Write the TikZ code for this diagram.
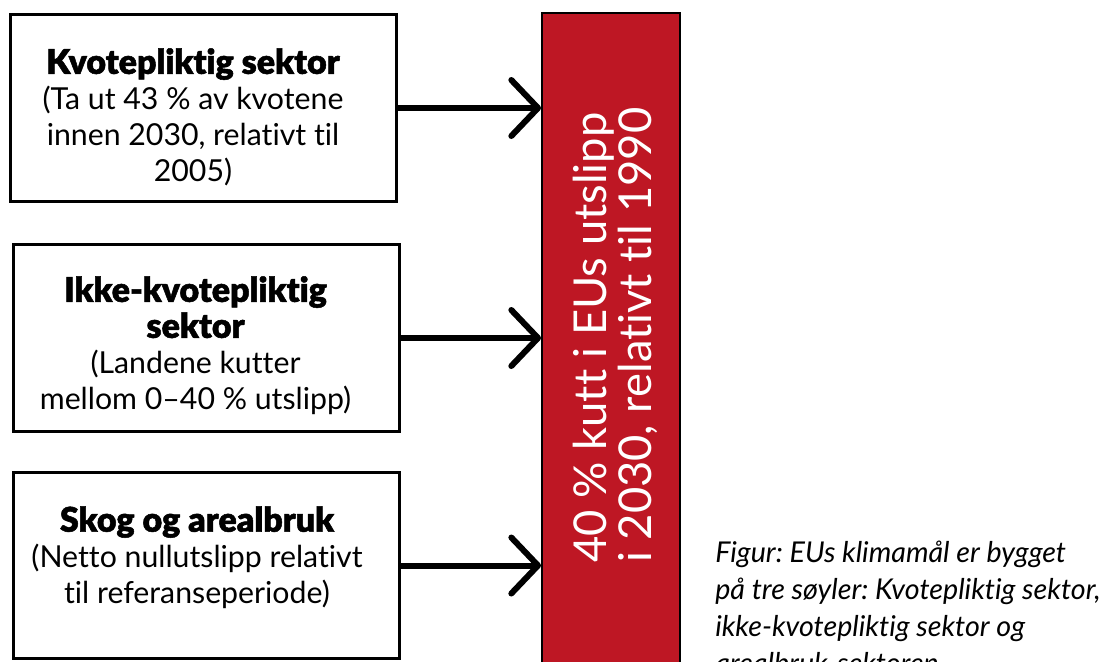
\documentclass[tikz,border=0pt]{standalone}
\usepackage{fontspec}
\setmainfont{Lato}[Ligatures=NoCommon]
\newfontfamily\headfont{Lato Black}[Ligatures=NoCommon,UprightFeatures={FakeBold=1.5}]
\usetikzlibrary{arrows.meta}
\definecolor{barred}{RGB}{190,23,36}
\frenchspacing
\begin{document}
\begin{tikzpicture}[x=0.75pt,y=-0.75pt,
  box/.style={draw,line width=2.25pt,fill=white,minimum width=290pt,minimum height=140pt,inner sep=0pt},
  txt/.style={align=center,inner sep=0pt,anchor=north,font=\fontsize{22.7}{27}\selectfont},
  arr/.style={line width=4.5pt,-{Straight Barb[length=20pt,width=42pt,round]}},
  bartxt/.style={text=white,rotate=90,anchor=north west,align=left,inner sep=0pt,font=\fontsize{34}{34}\selectfont},
  caption/.style={anchor=north west,align=left,inner sep=0pt,font=\itshape\fontsize{21.5}{27.75}\selectfont}]
\newcommand\hd{\headfont\fontsize{25.5}{22}\selectfont}
\clip (0,0) rectangle (1105,661);
\fill[white] (0,0) rectangle (1105,661);
% bar
\node[draw,line width=1.5pt,fill=barred,minimum width=103.5pt,minimum height=500pt,inner sep=0pt] (bar) at (611,346.5) {};
\node[bartxt] (bt) at (573,563) {40 \% kutt i EUs utslipp\\i 2030, relativt til 1990};
% boxes
\node[box] (b1) at (203.5,108) {};
\node[box] (b2) at (206.5,338) {};
\node[box] (b3) at (206.5,565.5) {};
\node[txt] (t1) at (193,48) {{\hd Kvotepliktig sektor}\\(Ta ut 43 \% av kvotene\\innen 2030, relativt til\\2005)};
\node[txt] (t2) at (195.5,276) {{\hd Ikke-kvotepliktig}\\{\hd sektor}\\(Landene kutter\\mellom 0–40 \% utslipp)};
\node[txt] (t3) at (197,506) {{\hd Skog og arealbruk}\\(Netto nullutslipp relativt\\til referanseperiode)};
% arrows
\draw[arr] (b1.east) -- (b1.east -| bar.west);
\draw[arr] (b2.east) -- (b2.east -| bar.west);
\draw[arr] (b3.east) -- (b3.east -| bar.west);
% caption
\node[caption] (cap) at (715,541) {Figur: EUs klimamål er bygget\\på tre søyler: Kvotepliktig sektor,\\ikke-kvotepliktig sektor og\\arealbruk-sektoren};
\end{tikzpicture}
\end{document}
